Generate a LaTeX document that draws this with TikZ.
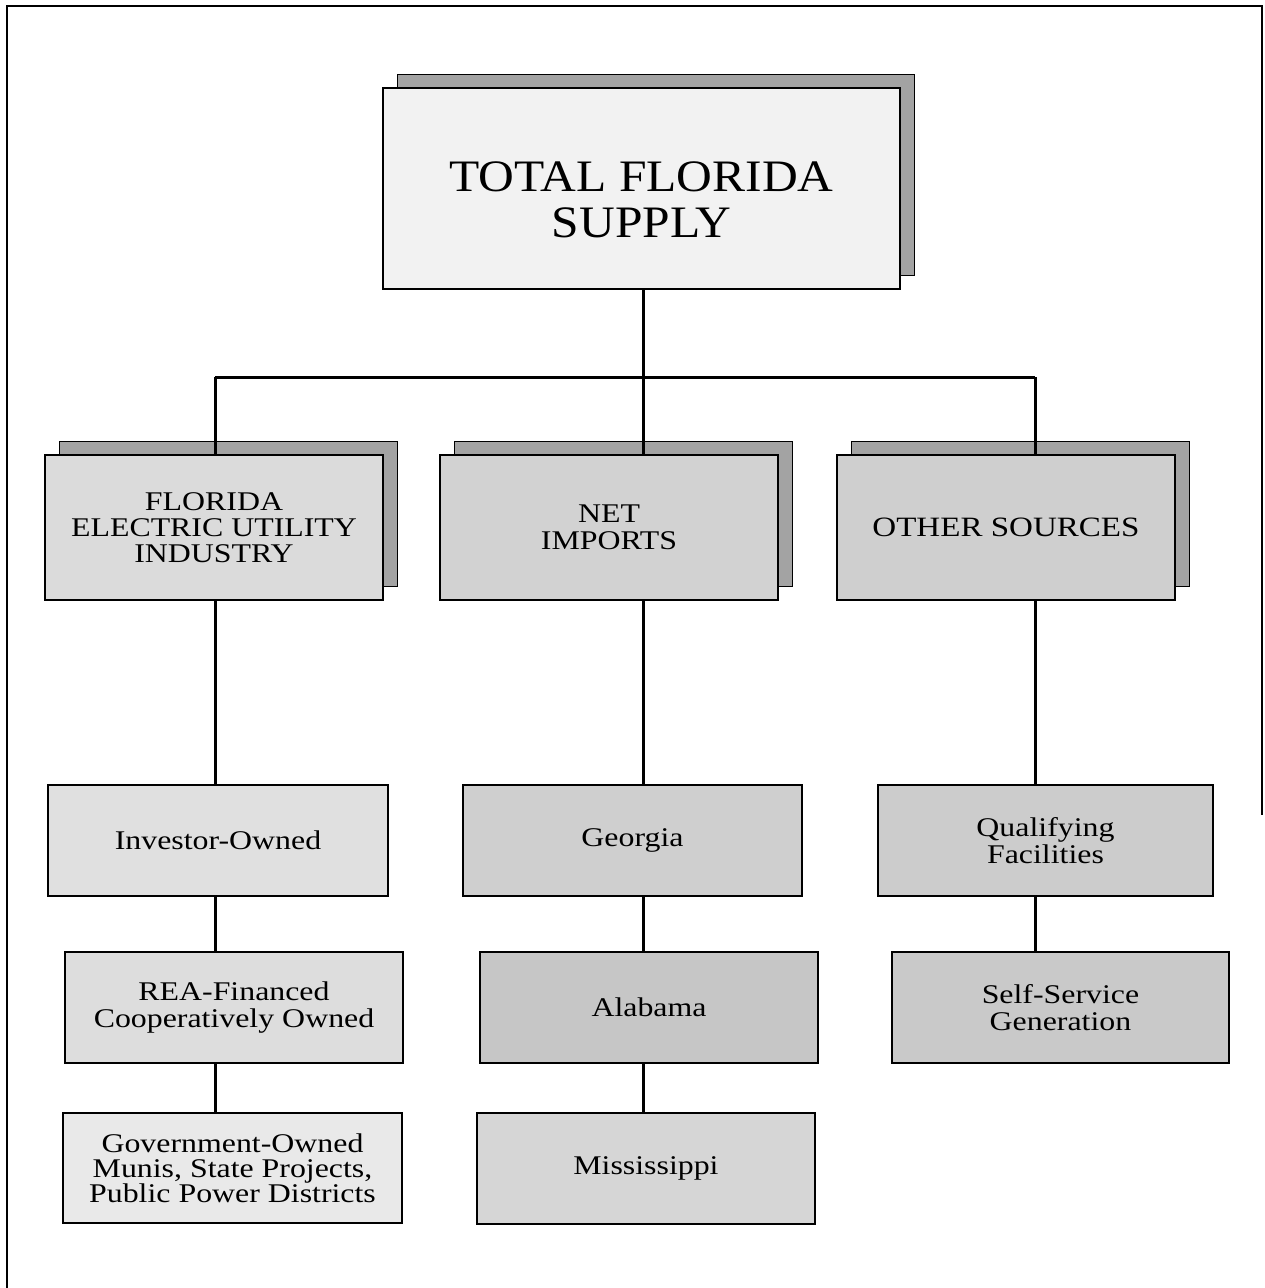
\documentclass[tikz,border=0pt]{standalone}
\usepackage{fontspec}
\setmainfont{Liberation Serif}[FakeStretch=1.1]
\newfontfamily\widefont{Liberation Serif}[FakeStretch=1.18]
\usetikzlibrary{shadows}
\begin{document}
\begin{tikzpicture}[x=1pt,y=-1pt,
  box/.style={draw=black, line width=2pt, inner sep=0pt, align=center,
    font=\widefont\fontsize{27}{27}\selectfont},
  shad/.style={general shadow={fill=gray!72, draw=black, line width=1pt,
    shadow xshift=14pt, shadow yshift=14pt}},
  conn/.style={draw=black, line width=3pt}]
\useasboundingbox (0,0) rectangle (1264,1288);
% frame
\draw[line width=2.5pt] (7,1288) -- (7,6) -- (1262,6) -- (1262,815);
% level 1
\node[box, shad, fill=gray!10, minimum width=517pt, minimum height=201pt,
  font=\rmfamily\fontsize{45}{46}\selectfont] (top) at (641.5,188.5)
  {\rule{0pt}{52pt}TOTAL FLORIDA\\SUPPLY};
% level 2
\node[box, shad, fill=gray!28, minimum width=338pt, minimum height=145pt,
  font=\widefont\fontsize{27}{26}\selectfont] (fe) at (214,527.5)
  {FLORIDA\\ELECTRIC UTILITY\\INDUSTRY};
\node[box, shad, fill=gray!35, minimum width=338pt, minimum height=145pt,
  font=\widefont\fontsize{27}{27}\selectfont] (ni) at (609,527.5)
  {NET\\IMPORTS};
\node[box, shad, fill=gray!38, minimum width=338pt, minimum height=145pt,
  font=\widefont\fontsize{28}{27}\selectfont] (os) at (1006,527.5)
  {OTHER SOURCES};
% level 3
\node[box, fill=gray!24, minimum width=340pt, minimum height=111pt] (io) at (218,840.5)
  {Investor-Owned};
\node[box, fill=gray!38, minimum width=339pt, minimum height=111pt] (ga) at (632.5,840.5)
  {Georgia};
\node[box, fill=gray!40, minimum width=335pt, minimum height=111pt] (qf) at (1045.5,840.5)
  {Qualifying\\Facilities};
% level 4
\node[box, fill=gray!27, minimum width=338pt, minimum height=111pt] (rea) at (234,1007.5)
  {REA-Financed\\Cooperatively Owned};
\node[box, fill=gray!45, minimum width=338pt, minimum height=111pt] (al) at (649,1007.5)
  {Alabama};
\node[box, fill=gray!42, minimum width=337pt, minimum height=111pt] (ss) at (1060.5,1007.5)
  {Self-Service\\Generation};
% level 5
\node[box, fill=gray!17, minimum width=339pt, minimum height=110pt,
  font=\widefont\fontsize{27}{25}\selectfont] (go) at (232.5,1168)
  {Government-Owned\\Munis, State Projects,\\Public Power Districts};
\node[box, fill=gray!32, minimum width=338pt, minimum height=111pt] (ms) at (646,1168.5)
  {Mississippi};
% connectors
\coordinate (busL) at (215,377);
\coordinate (busM) at (643,377);
\coordinate (busR) at (1035,377);
\draw[conn] (busL) -- (busR);
\draw[conn] (busM |- top.south) -- (busM);
\draw[conn] (busL) -- (busL |- fe.north);
\draw[conn] (busM) -- (busM |- ni.north);
\draw[conn] (busR) -- (busR |- os.north);
\draw[conn] (busL |- fe.south) -- (busL |- io.north);
\draw[conn] (busL |- io.south) -- (busL |- rea.north);
\draw[conn] (busL |- rea.south) -- (busL |- go.north);
\draw[conn] (busM |- ni.south) -- (busM |- ga.north);
\draw[conn] (busM |- ga.south) -- (busM |- al.north);
\draw[conn] (busM |- al.south) -- (busM |- ms.north);
\draw[conn] (busR |- os.south) -- (busR |- qf.north);
\draw[conn] (busR |- qf.south) -- (busR |- ss.north);
\end{tikzpicture}
\end{document}
